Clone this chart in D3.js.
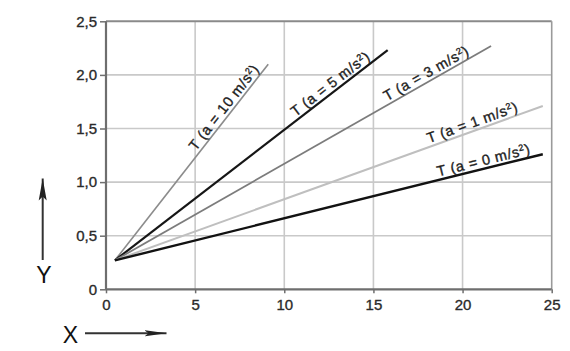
<!DOCTYPE html>
<html>
<head>
<meta charset="utf-8">
<script src="https://cdn.jsdelivr.net/npm/d3@7/dist/d3.min.js"></script>
<style>
  html, body { margin: 0; padding: 0; background: #fff; }
  svg { display: block; font-family: "Liberation Sans", Arial, Helvetica, sans-serif; }
</style>
</head>
<body>
<svg id="chart" width="570" height="351"></svg>
<script>
// ---- data ----
const accelerations = [10, 5, 3, 1, 0];          // m/s²
const lineStartX = [0.5, 0.5, 0.5, 0.5, 0.5];
const lineStartY = [0.27, 0.27, 0.27, 0.27, 0.27];
const lineEndX   = [9.1, 15.8, 21.6, 24.5, 24.5];
const lineEndY   = [2.10, 2.23, 2.27, 1.71, 1.26];
const xTicks = [0, 5, 10, 15, 20, 25];
const xTickLabels = ["0", "5", "10", "15", "20", "25"];
const yTicks = [0, 0.5, 1, 1.5, 2, 2.5];
const yTickLabels = ["0", "0,5", "1,0", "1,5", "2,0", "2,5"];

// ---- styles / layout ----
const lineColors = ["#8c8c8c", "#161616", "#7c7c7c", "#bfbfbf", "#121212"];
const lineWidths = [1.6, 2.2, 1.8, 2.0, 2.4];
const labelBackOff = [9, 18, 22, 24, 11];   // px back from line end, along the line
const labelLift = 3.5;                        // px above the line

const svg = d3.select("#chart");
const x = d3.scaleLinear().domain([0, 25]).range([106, 551.7]);
const y = d3.scaleLinear().domain([0, 2.5]).range([289.3, 21.3]);

// grid
const grid = svg.append("g");
grid.selectAll("line.vx").data(xTicks.slice(1, -1)).join("line")
  .attr("x1", d => x(d)).attr("x2", d => x(d))
  .attr("y1", y(0)).attr("y2", y(2.5))
  .attr("stroke", "#c9c9c9").attr("stroke-width", 1.6);
grid.selectAll("line.hy").data(yTicks.slice(1, -1)).join("line")
  .attr("x1", x(0)).attr("x2", x(25))
  .attr("y1", d => y(d)).attr("y2", d => y(d))
  .attr("stroke", "#c9c9c9").attr("stroke-width", 1.6);

// frame (top/right)
svg.append("line").attr("x1", x(0)).attr("x2", x(25)).attr("y1", y(2.5)).attr("y2", y(2.5))
  .attr("stroke", "#8a8a8a").attr("stroke-width", 2);
svg.append("line").attr("x1", x(25)).attr("x2", x(25)).attr("y1", y(2.5)).attr("y2", y(0))
  .attr("stroke", "#9a9a9a").attr("stroke-width", 1.6);

// axes
const yAxis = d3.axisLeft(y).tickValues(yTicks).tickFormat((d, i) => yTickLabels[i])
  .tickSize(6).tickPadding(3);
const xAxis = d3.axisBottom(x).tickValues(xTicks).tickFormat((d, i) => xTickLabels[i])
  .tickSize(4).tickPadding(6);

const gy = svg.append("g").attr("transform", `translate(${x(0)},0)`).call(yAxis);
const gx = svg.append("g").attr("transform", `translate(0,${y(0)})`).call(xAxis);
[gx, gy].forEach(g => {
  g.select(".domain").attr("stroke", "#6e6e6e").attr("stroke-width", 2.2);
  g.selectAll(".tick line").attr("stroke", "#6e6e6e").attr("stroke-width", 1.5);
  g.selectAll(".tick text").attr("fill", "#2a2a2a")
    .attr("stroke", "#2a2a2a").attr("stroke-width", 0.35)
    .style("font-size", "15px").style("font-family", "'Liberation Sans', Arial, sans-serif");
});
gy.select(".domain").attr("d", `M0,${y(0)}V${y(2.5)}`);
gx.select(".domain").attr("d", `M${x(0)},0H${x(25)}`);

// lines
const series = accelerations.map((a, i) => ({
  a, i,
  pts: [[lineStartX[i], lineStartY[i]], [lineEndX[i], lineEndY[i]]]
}));
const lineGen = d3.line().x(d => x(d[0])).y(d => y(d[1]));
svg.append("g").selectAll("path").data(series).join("path")
  .attr("d", d => lineGen(d.pts))
  .attr("fill", "none")
  .attr("stroke", d => lineColors[d.i])
  .attr("stroke-width", d => lineWidths[d.i])
  .attr("stroke-linecap", "butt");

// labels
const labels = svg.append("g");
series.forEach(s => {
  const x0 = x(s.pts[0][0]), y0 = y(s.pts[0][1]);
  const x1 = x(s.pts[1][0]), y1 = y(s.pts[1][1]);
  const ang = Math.atan2(y1 - y0, x1 - x0);
  const deg = ang * 180 / Math.PI;
  const ux = Math.cos(ang), uy = Math.sin(ang);
  const nx = uy, ny = -ux;
  const px = x1 - ux * labelBackOff[s.i] + nx * labelLift;
  const py = y1 - uy * labelBackOff[s.i] + ny * labelLift;
  const t = labels.append("text")
    .attr("transform", `translate(${px},${py}) rotate(${deg})`)
    .attr("text-anchor", "end")
    .attr("fill", "#1e1e1e")
    .attr("stroke", "#1e1e1e").attr("stroke-width", 0.35)
    .style("font-size", "14.5px")
    .style("letter-spacing", "0.6px");
  t.append("tspan").text(`T (a = ${s.a} m/s`);
  t.append("tspan").attr("dy", -5).style("font-size", "9px").text("2");
  t.append("tspan").attr("dy", 5).text(")");
});

// axis direction arrows
const defs = svg.append("defs");
defs.append("marker").attr("id", "arrx").attr("viewBox", "0 0 22 8")
  .attr("refX", 22).attr("refY", 4).attr("markerWidth", 22).attr("markerHeight", 8)
  .attr("markerUnits", "userSpaceOnUse").attr("orient", "auto")
  .append("path").attr("d", "M0,1L22,4L0,7L4,4Z").attr("fill", "#222");
defs.append("marker").attr("id", "arry").attr("viewBox", "0 0 10 22")
  .attr("refX", 5).attr("refY", 0).attr("markerWidth", 10).attr("markerHeight", 22)
  .attr("markerUnits", "userSpaceOnUse").attr("orient", "0")
  .append("path").attr("d", "M5,0L9,22L5,18L1,22Z").attr("fill", "#222");

svg.append("line").attr("x1", 42.7).attr("x2", 42.7).attr("y1", 260).attr("y2", 178.5)
  .attr("stroke", "#333").attr("stroke-width", 2).attr("marker-end", "url(#arry)");
svg.append("text").attr("x", 44).attr("y", 283).attr("text-anchor", "middle")
  .attr("fill", "#111").style("font-size", "23px").text("Y");

svg.append("line").attr("x1", 85).attr("x2", 166.5).attr("y1", 333.3).attr("y2", 333.3)
  .attr("stroke", "#333").attr("stroke-width", 2).attr("marker-end", "url(#arrx)");
svg.append("text").attr("x", 70.5).attr("y", 343).attr("text-anchor", "middle")
  .attr("fill", "#111").style("font-size", "23px").text("X");
</script>
</body>
</html>
